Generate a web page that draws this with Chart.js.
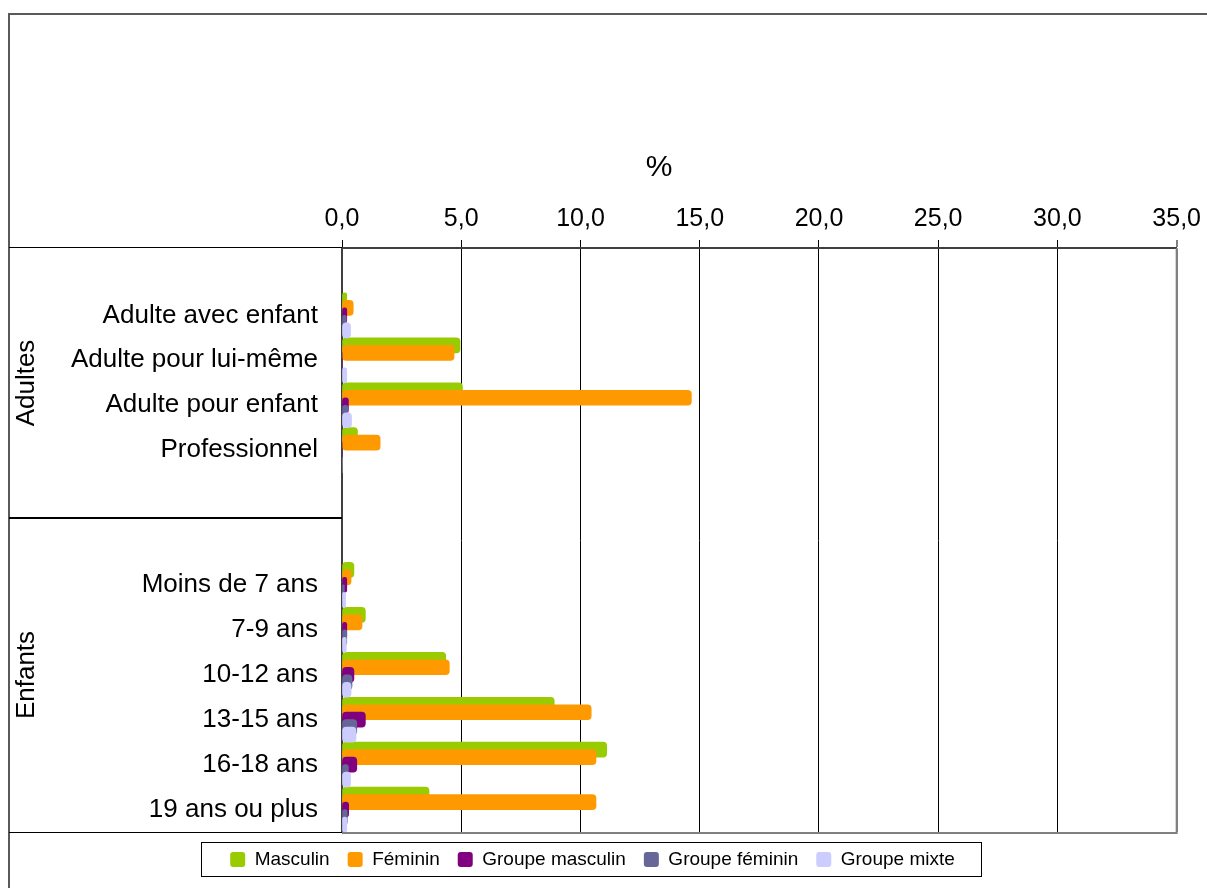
<!DOCTYPE html>
<html>
<head>
<meta charset="utf-8">
<title>Répartition par profil</title>
<script src="https://cdn.jsdelivr.net/npm/chart.js@4/dist/chart.umd.min.js"></script>
<style>
  html, body { margin: 0; padding: 0; background: #fff; }
  canvas { display: block; }
</style>
</head>
<body>
<canvas id="chart" width="1207" height="888"></canvas>
<script>
// rows of the chart, blank rows keep the space between the two groups
const categories = ['', 'Adulte avec enfant', 'Adulte pour lui-même', 'Adulte pour enfant', 'Professionnel', '', '',
    'Moins de 7 ans', '7-9 ans', '10-12 ans', '13-15 ans', '16-18 ans', '19 ans ou plus'];
const groupNames = ['Adultes', 'Enfants'];
const groupSizes = [6, 7];

const seriesNames = ['Masculin', 'Féminin', 'Groupe masculin', 'Groupe féminin', 'Groupe mixte'];
const seriesColors = ['#99CC00', '#FF9900', '#800080', '#666699', '#CCCCFF'];

// values in %
const masculin       = [null, 0.20, 4.95, 5.05, 0.65, null, null, 0.50, 0.98, 4.35,  8.90, 11.10,  3.65];
const feminin        = [null, 0.47, 4.70, 14.65, 1.60, null, null, 0.38, 0.84, 4.50, 10.45, 10.65, 10.65];
const groupeMasculin = [null, 0.20, 0.00, 0.27, 0.00, null, null, 0.20, 0.20, 0.50,  0.98,  0.62,  0.28];
const groupeFeminin  = [null, 0.18, 0.00, 0.25, 0.00, null, null, 0.10, 0.20, 0.42,  0.62,  0.27,  0.22];
const groupeMixte    = [null, 0.36, 0.20, 0.40, 0.00, null, null, 0.15, 0.18, 0.38,  0.59,  0.36,  0.20];

const xTicks = [0, 5, 10, 15, 20, 25, 30, 35];

const seriesValues = [masculin, feminin, groupeMasculin, groupeFeminin, groupeMixte];
const fontFamily = '"Liberation Sans", Arial, sans-serif';

// bars of a row overlap by half: each series is shifted by 1/6 of a row
const datasets = seriesNames.map((name, k) => ({
    label: name,
    data: seriesValues[k]
        .map((v, i) => (v === null ? null : { x: v, y: i + (k - 2) / 6 }))
        .filter(p => p !== null),
    backgroundColor: seriesColors[k],
    borderWidth: 0,
    borderRadius: 4,
    borderSkipped: false,
    barThickness: 15,
    grouped: false,
    order: seriesNames.length - k, // later series drawn on top
}));

// frame, group column, axis title and legend box
const framePlugin = {
    id: 'frame',
    afterDraw(chart) {
        const { ctx, chartArea: area, scales: { y } } = chart;
        ctx.save();

        // outer border
        ctx.strokeStyle = '#595959';
        ctx.lineWidth = 2;
        ctx.beginPath();
        ctx.moveTo(9, chart.height);
        ctx.lineTo(9, 14);
        ctx.lineTo(chart.width, 14);
        ctx.stroke();

        // plot border (right and bottom)
        ctx.strokeStyle = '#808080';
        ctx.beginPath();
        ctx.moveTo(area.right, area.top);
        ctx.lineTo(area.right, area.bottom + 1);
        ctx.lineTo(area.left, area.bottom + 1);
        ctx.stroke();

        // group column
        ctx.strokeStyle = '#000';
        ctx.lineWidth = 1;
        ctx.fillStyle = '#000';
        ctx.font = '26px ' + fontFamily;
        ctx.textAlign = 'center';
        ctx.textBaseline = 'middle';
        let start = -0.5;
        groupNames.forEach((name, g) => {
            const end = start + groupSizes[g];
            const top = Math.round(y.getPixelForValue(start)) - 0.5;
            const bottom = Math.round(y.getPixelForValue(end)) + 0.5;
            ctx.beginPath();
            ctx.moveTo(9, top);
            ctx.lineTo(area.left, top);
            ctx.moveTo(9, bottom);
            ctx.lineTo(area.left, bottom);
            ctx.stroke();
            ctx.save();
            ctx.translate(27, (top + bottom) / 2);
            ctx.rotate(-Math.PI / 2);
            ctx.fillText(name, 0, 0);
            ctx.restore();
            start = end;
        });

        // axis title
        ctx.font = '30px ' + fontFamily;
        ctx.fillText('%', 659, 168);

        // legend box
        const boxes = chart.legend.legendHitBoxes;
        if (boxes.length) {
            const first = boxes[0];
            const last = boxes[boxes.length - 1];
            const left = Math.round(first.left - 29) + 0.5;
            const right = Math.round(last.left + last.width + 26) + 0.5;
            const top = Math.round(first.top - 8) + 0.5;
            const bottom = Math.round(first.top + first.height + 7) + 0.5;
            ctx.strokeRect(left, top, right - left, bottom - top);
        }
        ctx.restore();
    }
};

new Chart(document.getElementById('chart'), {
    type: 'bar',
    data: { datasets },
    options: {
        indexAxis: 'y',
        responsive: false,
        devicePixelRatio: 1,
        animation: false,
        layout: { padding: { left: 8, right: 30, top: 0, bottom: 9 } },
        scales: {
            x: {
                type: 'linear',
                position: 'top',
                min: 0,
                max: 35,
                afterBuildTicks: scale => { scale.ticks = xTicks.map(v => ({ value: v })); },
                afterFit: scale => { scale.height = 248; },
                ticks: {
                    color: '#000',
                    font: { family: fontFamily, size: 25 },
                    padding: 6,
                    maxRotation: 0,
                    callback: v => v.toFixed(1).replace('.', ','),
                },
                grid: {
                    color: c => (c.tick && c.tick.value === 35 ? '#808080' : '#000'),
                    lineWidth: c => (c.tick && c.tick.value === 35 ? 2 : 1),
                    tickLength: 8,
                },
                border: { color: '#404040', width: 2 },
            },
            y: {
                type: 'linear',
                reverse: true,
                offset: false,
                bounds: 'data',
                min: -0.5,
                max: categories.length - 0.5,
                afterBuildTicks: scale => { scale.ticks = categories.map((c, i) => ({ value: i })); },
                afterFit: scale => { scale.width = 334; },
                ticks: {
                    autoSkip: false,
                    color: '#000',
                    font: { family: fontFamily, size: 26 },
                    padding: 24,
                    callback: v => categories[v],
                },
                grid: { display: false, drawTicks: false },
                border: { color: '#404040', width: 2 },
            },
        },
        plugins: {
            legend: {
                position: 'bottom',
                labels: {
                    color: '#000',
                    font: { family: fontFamily, size: 19 },
                    boxWidth: 15,
                    boxHeight: 15,
                    padding: 18,
                    useBorderRadius: true,
                    borderRadius: 3,
                    sort: (a, b) => a.datasetIndex - b.datasetIndex,
                },
            },
            tooltip: { enabled: false },
        },
    },
    plugins: [framePlugin],
});
</script>
</body>
</html>
